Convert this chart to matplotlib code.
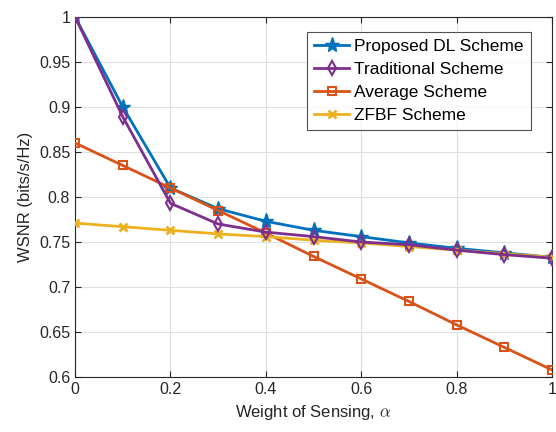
import matplotlib
matplotlib.use("Agg")
import matplotlib.pyplot as plt

alpha = [0, 0.1, 0.2, 0.3, 0.4, 0.5, 0.6, 0.7, 0.8, 0.9, 1.0]
proposed = [1.0, 0.900, 0.810, 0.787, 0.773, 0.763, 0.756, 0.749, 0.743, 0.738, 0.733]
traditional = [1.0, 0.889, 0.793, 0.770, 0.761, 0.756, 0.750, 0.747, 0.741, 0.736, 0.732]
average = [0.860, 0.835, 0.810, 0.785, 0.760, 0.734, 0.709, 0.684, 0.658, 0.633, 0.608]
zfbf = [0.771, 0.767, 0.763, 0.759, 0.756, 0.752, 0.749, 0.745, 0.741, 0.737, 0.733]

xticks = [0, 0.2, 0.4, 0.6, 0.8, 1.0]
xticklabels = ["0", "0.2", "0.4", "0.6", "0.8", "1"]
yticks = [0.6, 0.65, 0.7, 0.75, 0.8, 0.85, 0.9, 0.95, 1.0]
yticklabels = ["0.6", "0.65", "0.7", "0.75", "0.8", "0.85", "0.9", "0.95", "1"]

plt.rcParams['font.family'] = ['Liberation Sans', 'DejaVu Sans']
plt.rcParams['mathtext.fontset'] = 'cm'

fig = plt.figure(figsize=(5.56, 4.32), dpi=100)
ax = fig.add_axes([0.135, 0.127, 0.858, 0.834])

ax.plot(alpha, proposed, color='#0072BD', lw=2, marker='*', ms=11, label='Proposed DL Scheme', zorder=3)
ax.plot(alpha, traditional, color='#7E2F8E', lw=2, marker='d', ms=7, mfc='none', mew=1.5, label='Traditional Scheme', zorder=4)
ax.plot(alpha, average, color='#D95319', lw=2, marker='s', ms=6, mfc='none', mew=1.5, label='Average Scheme', zorder=3)
ax.plot(alpha, zfbf, color='#EDB120', lw=2, marker='x', ms=6, mew=2, label='ZFBF Scheme', zorder=3)

ax.set_xlim(0, 1)
ax.set_ylim(0.6, 1.0)
ax.set_xticks(xticks)
ax.set_xticklabels(xticklabels)
ax.set_yticks(yticks)
ax.set_yticklabels(yticklabels)
ax.tick_params(direction='in', labelsize=11.5, colors='#262626', length=4, top=True, right=True)
ax.grid(True, color='#e0e0e0', lw=0.8)
ax.set_axisbelow(True)
for s in ax.spines.values():
    s.set_color('#262626')
    s.set_linewidth(0.8)

ax.set_xlabel(r'Weight of Sensing, $\alpha$', fontsize=12, color='#262626')
ax.set_ylabel('WSNR (bits/s/Hz)', fontsize=12, color='#262626')

leg = ax.legend(loc='upper right', bbox_to_anchor=(0.955, 0.957), fontsize=12.5, frameon=True,
                fancybox=False, edgecolor='#262626', handlelength=2.0, borderpad=0.4,
                labelspacing=0.45, handletextpad=0.3, borderaxespad=0)
leg.get_frame().set_linewidth(0.8)

fig.savefig('out.png', dpi=100)
